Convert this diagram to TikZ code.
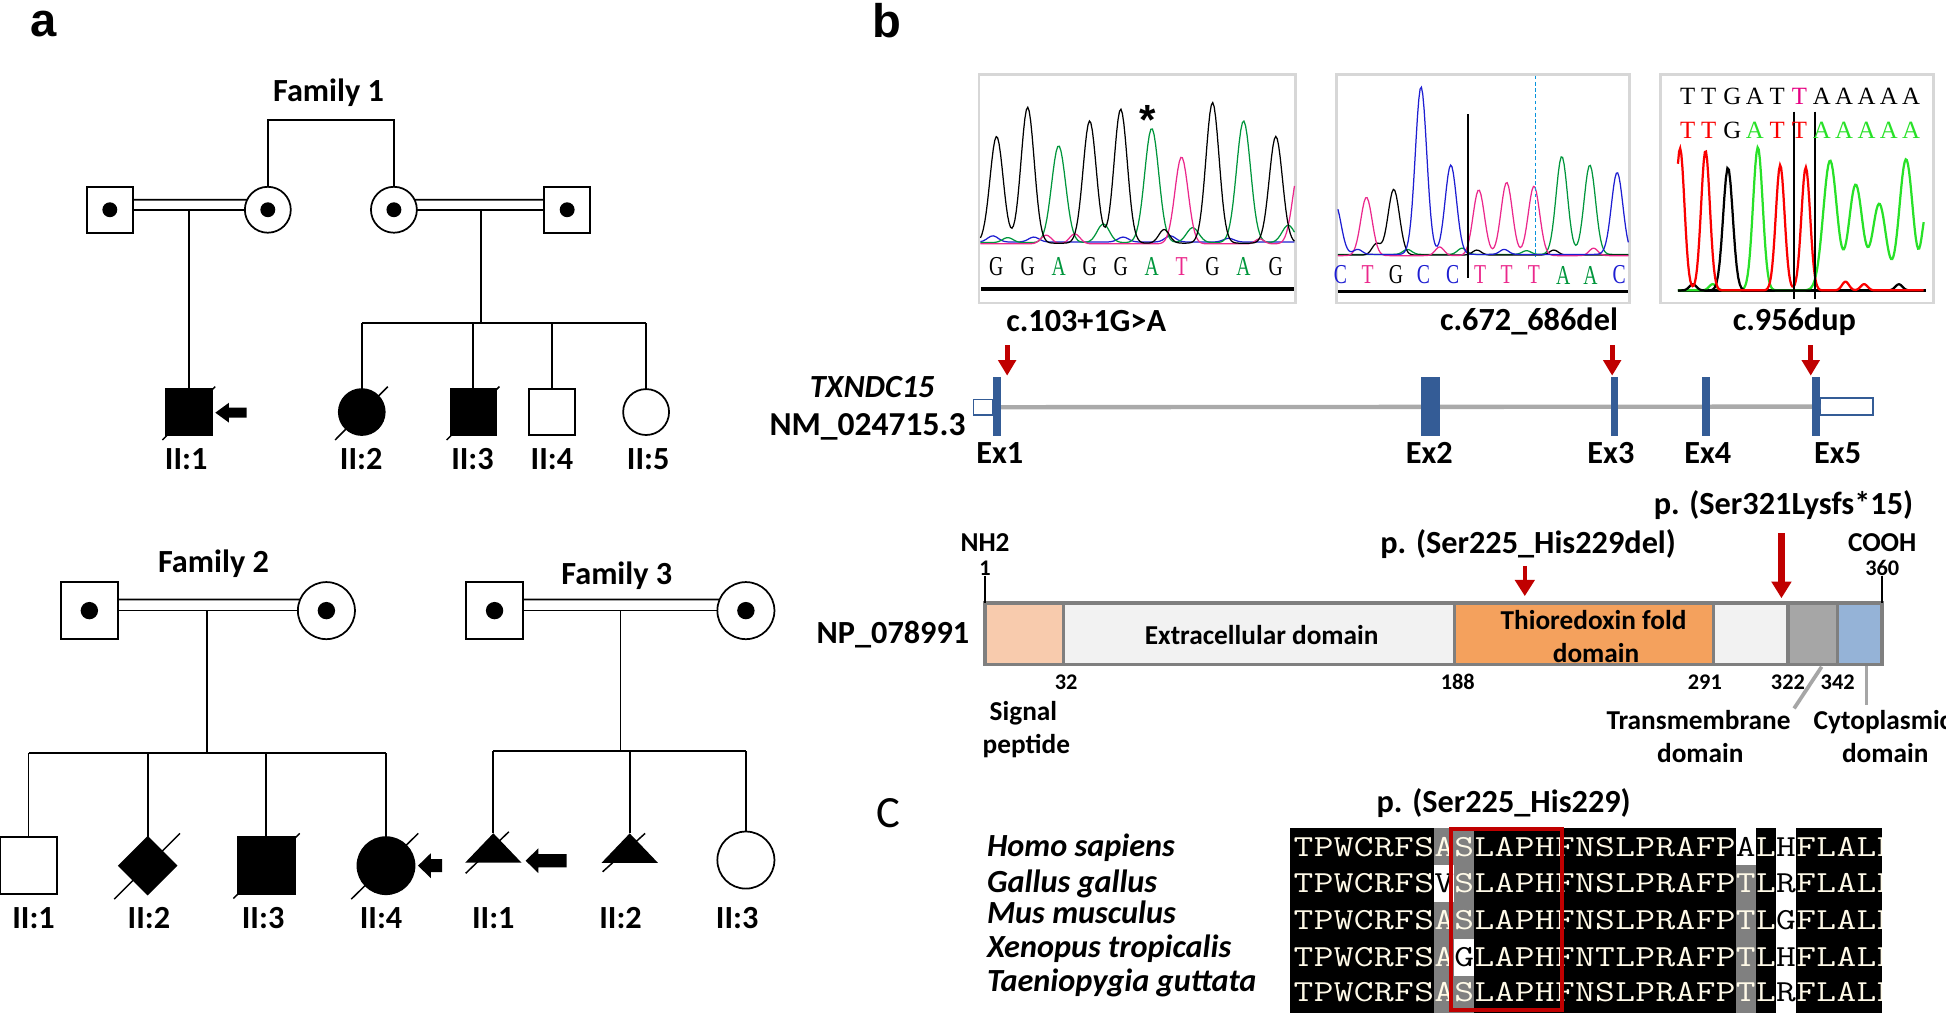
\documentclass[tikz,border=0pt]{standalone}
\usepackage{fontspec}
\setmainfont{Carlito}
\newfontfamily\arialf{Liberation Sans}
\newfontfamily\serf{Liberation Serif}
\usetikzlibrary{shapes.geometric,arrows.meta,calc}
\definecolor{exblue}{RGB}{52,92,150}
\definecolor{genegray}{RGB}{170,170,170}
\definecolor{mutred}{RGB}{192,0,0}
\definecolor{peach}{RGB}{248,203,173}
\definecolor{lgray}{RGB}{242,242,242}
\definecolor{orng}{RGB}{244,161,93}
\definecolor{tmgray}{RGB}{166,166,166}
\definecolor{cytob}{RGB}{149,179,215}
\definecolor{bordgray}{RGB}{127,127,127}
\definecolor{chgreen}{RGB}{0,150,60}
\definecolor{chpink}{RGB}{235,40,140}
\definecolor{chblue}{RGB}{30,30,210}
\definecolor{chred}{RGB}{250,0,0}
\definecolor{chlime}{RGB}{40,225,40}
\definecolor{chmag}{RGB}{230,0,130}
\definecolor{boxgray}{RGB}{215,215,215}
\definecolor{cellgray}{RGB}{128,128,128}
\definecolor{seqwhite}{RGB}{255,250,232}
\newcommand\gpk[3]{#2*exp(-min(((\x-#1)/#3)*((\x-#1)/#3),9))}
\newcommand\sq[1]{\scalebox{1}[0.8]{#1}}
% one alignment row: #1 row id, #2 baseline y, #3 #4 columns on white, #5 letters
\newcommand\seqrow[5]{%
  \foreach \ch [count=\i from 0] in {#5} {%
    \def\tc{seqwhite}%
    \ifnum\i=#3 \def\tc{black}\fi
    \ifnum\i=#4 \def\tc{black}\fi
    \node[seqc, text=\tc] (r#1c\i) at ({1050.3+16.2*\i},#2) {\sq{\ch}};
  }}
\begin{document}
\begin{tikzpicture}[x=0.5pt,y=-0.5pt,
  every node/.style={inner sep=0pt, outer sep=0pt},
  ped/.style={draw=black, line width=0.7pt},
  sqA/.style={ped, rectangle, minimum size=18.5pt},
  ciA/.style={ped, circle, minimum size=18.5pt},
  sqB/.style={ped, rectangle, minimum size=23pt},
  ciB/.style={ped, circle, minimum size=23pt},
  dmB/.style={ped, diamond, aspect=1, minimum size=23pt},
  aff/.style={fill=black},
  tA/.style={font=\fontsize{13}{15}\selectfont\bfseries, text height=8.4pt, text depth=0pt},
  tAi/.style={font=\fontsize{13}{15}\selectfont\bfseries\itshape, text height=8.4pt, text depth=0pt},
  tB/.style={font=\fontsize{11}{13}\selectfont\bfseries, text height=7.1pt, text depth=0pt},
  tC/.style={font=\fontsize{9}{11}\selectfont\bfseries, text height=5.8pt, text depth=0pt},
  panel/.style={font=\arialf\fontsize{19}{21}\selectfont\bfseries},
  cA/.style={font=\serf\fontsize{11}{12}\selectfont},
  cB/.style={font=\serf\fontsize{10}{12}\selectfont},
  exon/.style={fill=exblue, minimum height=23.9pt},
  utr/.style={draw=exblue, line width=0.7pt, fill=white},
  mutarr/.style={mutred, line width=2pt, -{Triangle[width=7pt,length=6.3pt]}},
  seg/.style={draw=bordgray, line width=1.4pt},
  seqc/.style={font=\ttfamily\fontsize{15.43}{16}\selectfont, anchor=base},
  slashline/.style={draw=black, line width=0.6pt}
]
\useasboundingbox (0,0) rectangle (1568,816);
\fill[white] (0,0) rectangle (1568,816);

% ---------------- panel labels
\node[panel] (pa) at (35,19) {a};
\node[panel] (pb) at (715,17) {b};
\node[font=\fontsize{18}{20}\selectfont] (pc) at (715.5,655.4) {C};

% ---------------- Family 1
\node[tA] (f1t) at (264.7,73.5) {Family 1};
\node[sqA] (f1m1) at (88.5,169) {};
\node[ciA] (f1w1) at (215.8,169) {};
\node[ciA] (f1w2) at (317.4,169) {};
\node[sqA] (f1m2) at (457,169) {};
\foreach \n in {f1m1,f1w1,f1w2,f1m2} \fill (\n.center) circle[radius=3pt];
\coordinate (f1top) at (266,96.7);
\draw[ped] (f1w1.north) -- (f1w1.north |- f1top) -- (f1w2.north |- f1top) -- (f1w2.north);
\draw[ped] ([yshift=4pt]f1m1.east) -- (f1w1.154);
\draw[ped] (f1m1.east) -- (f1w1.west);
\draw[ped] (f1w2.26) -- ([yshift=4pt]f1m2.west);
\draw[ped] (f1w2.east) -- (f1m2.west);
\node[sqA,aff] (f1a) at (152.4,332) {};
\node[ciA,aff] (f1b) at (291.5,332) {};
\node[sqA,aff] (f1c) at (381.4,332) {};
\node[sqA] (f1d) at (445,332) {};
\node[ciA] (f1e) at (520.6,332) {};
\draw[ped] (f1a.north) -- (f1a.north |- f1m1.center);
\coordinate (f1s) at (387.5,260);
\draw[ped] (f1s |- f1m2.center) -- (f1s);
\draw[ped] (f1b.north |- f1s) -- (f1e.north |- f1s);
\foreach \n in {f1b,f1c,f1d,f1e} \draw[ped] (\n.north) -- (\n.north |- f1s);
\foreach \n in {f1a,f1b,f1c} \draw[slashline] ($(\n.center)+(-21.5,22.5)$) -- ($(\n.center)+(21,-20.5)$);
\fill (173.5,332.5) -- (184.5,324.5) -- (184.5,328.5) -- (198.8,328.5) -- (198.8,336.5) -- (184.5,336.5) -- (184.5,340.5) -- cycle;
\node[tA] (f1la) at (150,370) {II:1};
\node[tA] (f1lb) at (291,370) {II:2};
\node[tA] (f1lc) at (380.7,370) {II:3};
\node[tA] (f1ld) at (444.7,370) {II:4};
\node[tA] (f1le) at (522.3,370) {II:5};

% ---------------- Family 2
\node[tA] (f2t) at (172,453) {Family 2};
\node[sqB] (f2m) at (72,492) {};
\node[ciB] (f2w) at (263,492) {};
\foreach \n in {f2m,f2w} \fill (\n.center) circle[radius=3.5pt];
\draw[ped] ([yshift=4.5pt]f2m.east) -- (f2w.157);
\draw[ped] (f2m.east) -- (f2w.west);
\coordinate (f2s) at (167,607);
\draw[ped] (f2s |- f2m.center) -- (f2s);
\node[sqB] (f2a) at (23,697.5) {};
\node[dmB,aff] (f2b) at (119,697.5) {};
\node[sqB,aff] (f2c) at (214.5,697.5) {};
\node[ciB,aff] (f2d) at (311,697.5) {};
\draw[ped] (f2a.north |- f2s) -- (f2d.north |- f2s);
\foreach \n in {f2a,f2b,f2c,f2d} \draw[ped] (\n.north) -- (\n.north |- f2s);
\draw[slashline] ($(f2b.center)+(-27,27)$) -- ($(f2b.center)+(26,-26)$);
\draw[slashline] ($(f2c.center)+(-26.5,26.5)$) -- ($(f2c.center)+(27,-26)$);
\draw[slashline] ($(f2d.center)+(-28,27)$) -- ($(f2d.center)+(26,-26)$);
\fill (336.8,697.5) -- (347.1,687.5) -- (347.1,692.2) -- (356.2,692.2) -- (356.2,702.8) -- (347.1,702.8) -- (347.1,707.5) -- cycle;
\node[tA] (f2la) at (27,740) {II:1};
\node[tA] (f2lb) at (120,740) {II:2};
\node[tA] (f2lc) at (212,740) {II:3};
\node[tA] (f2ld) at (307,740) {II:4};

% ---------------- Family 3
\node[tA] (f3t) at (497,462.7) {Family 3};
\node[sqB] (f3m) at (398.5,492) {};
\node[ciB] (f3w) at (601,492) {};
\foreach \n in {f3m,f3w} \fill (\n.center) circle[radius=3.5pt];
\draw[ped] ([yshift=4.5pt]f3m.east) -- (f3w.157);
\draw[ped] (f3m.east) -- (f3w.west);
\coordinate (f3s) at (500,605);
\draw[ped] (f3s |- f3m.center) -- (f3s);
\coordinate (f3a) at (397.5,671.4);
\coordinate (f3b) at (507.4,671.5);
\fill (f3a) -- ++(-22.7,23.7) -- ++(45.4,0) -- cycle;
\fill (f3b) -- ++(-22.7,23.7) -- ++(45.4,0) -- cycle;
\node[ciB] (f3c) at (601,693) {};
\draw[ped] (f3a |- f3s) -- (f3c.north |- f3s);
\draw[ped] (f3a) -- (f3a |- f3s);
\draw[ped] (f3b) -- (f3b |- f3s);
\draw[ped] (f3c.north) -- (f3c.north |- f3s);
\draw[slashline] ($(f3a)+(-22.3,32.3)$) -- ($(f3a)+(12.5,-1.2)$);
\draw[slashline] ($(f3b)+(-21.8,30.9)$) -- ($(f3b)+(12.4,0)$);
\fill (423.5,693.5) -- (433.8,683.5) -- (433.8,688.2) -- (456.6,688.2) -- (456.6,698.8) -- (433.8,698.8) -- (433.8,703.5) -- cycle;
\node[tA] (f3la) at (397.5,740) {II:1};
\node[tA] (f3lb) at (500,740) {II:2};
\node[tA] (f3lc) at (594,740) {II:3};

% ---------------- chromatograms
\node[draw=boxgray, line width=1pt, minimum width=127.5pt, minimum height=92pt, anchor=north west] (chA) at (789,60) {};
\node[draw=boxgray, line width=1pt, minimum width=118pt, minimum height=92pt, anchor=north west] (chB) at (1077,60) {};
\node[draw=boxgray, line width=1pt, minimum width=110pt, minimum height=92pt, anchor=north west] (chC) at (1338,60) {};

\begin{scope}
\clip (chA.south west) rectangle (chA.north east);
\draw[chblue, line width=0.5pt] plot[domain=790:1043, samples=120] (\x,{195-\gpk{800}{5}{6}-\gpk{833}{4}{6}-\gpk{905}{4}{6}-\gpk{943}{5}{6}-\gpk{990}{3}{6}});
\draw[chgreen, line width=0.5pt] plot[domain=790:1043, samples=200] (\x,{195.5-\gpk{853}{78}{8}-\gpk{928}{92}{8}-\gpk{1002}{98}{8}-\gpk{889}{15}{7}-\gpk{961}{12}{7}-\gpk{1038}{14}{7}-\gpk{812}{4}{6}});
\draw[chpink, line width=0.5pt] plot[domain=790:1043, samples=200] (\x,{196.5-\gpk{952}{70}{7.5}-\gpk{1047}{62}{7.5}-\gpk{866}{8}{6}-\gpk{843}{7}{6}-\gpk{1015}{4}{5}});
\draw[black, line width=0.5pt] plot[domain=790:1043, samples=220] (\x,{196-\gpk{803}{86}{7.5}-\gpk{828}{109.5}{7.5}-\gpk{878}{98.5}{7.5}-\gpk{903}{108}{7.5}-\gpk{977}{113.3}{7.5}-\gpk{1028}{86}{7.5}-\gpk{938}{11}{6}});
\end{scope}
\node[font=\arialf\fontsize{17}{17}\selectfont\bfseries, anchor=base] (ast) at (924.5,108) {*};
\foreach \px/\ch/\cl [count=\k] in {802.6/G/black, 828/G/black, 853/A/chgreen, 878/G/black, 903/G/black, 928/A/chgreen, 952/T/chpink, 977/G/black, 1002/A/chgreen, 1028/G/black}
  \node[cA, text=\cl] (qa\k) at (\px,215) {\scalebox{0.72}[1]{\ch}};
\draw[black, line width=1.6pt] (790.5,233) -- (1042.5,233);

\begin{scope}
\clip (chB.south west) rectangle (chB.north east);
\draw[chgreen, line width=0.5pt] plot[domain=1078:1312, samples=200] (\x,{205-\gpk{1258.4}{79}{6.5}-\gpk{1281}{72}{6.5}-\gpk{1134}{4}{5}-\gpk{1178}{5}{5}-\gpk{1230}{3}{5}});
\draw[black, line width=0.5pt] plot[domain=1078:1312, samples=200] (\x,{205.5-\gpk{1123}{53}{6.5}-\gpk{1109}{9}{5}-\gpk{1190}{4}{5}-\gpk{1252}{4}{5}});
\draw[chpink, line width=0.5pt] plot[domain=1078:1312, samples=200] (\x,{206-\gpk{1101}{47}{6.5}-\gpk{1191.5}{53}{6.5}-\gpk{1214}{59}{6.5}-\gpk{1236}{56}{6.5}-\gpk{1160}{7}{5}-\gpk{1284}{6}{5}});
\draw[chblue, line width=0.5pt] plot[domain=1078:1312, samples=220] (\x,{205-\gpk{1076}{40}{6.5}-\gpk{1145}{135}{6.5}-\gpk{1169}{72}{6.5}-\gpk{1303}{66}{6.5}-\gpk{1212}{4}{5}-\gpk{1094}{4}{5}});
\end{scope}
\draw[cyan!80!blue, line width=0.5pt, dash pattern=on 1.5pt off 1pt] (1237,61) -- (1237,207);
\draw[black, line width=1pt] (1183,92) -- (1183,224);
\foreach \px/\ch/\cl [count=\k] in {1080/C/chblue, 1102/T/chpink, 1124.7/G/black, 1147/C/chblue, 1170.5/C/chblue, 1192.6/T/chpink, 1214/T/chpink, 1236/T/chpink, 1259.5/A/chgreen, 1281.6/A/chgreen, 1304.6/C/chblue}
  \node[cA, text=\cl] (qb\k) at (\px,221.6) {\scalebox{0.72}[1]{\ch}};
\draw[black, line width=1.1pt] (1078,235) -- (1312,235);

\begin{scope}
\clip (chC.south west) rectangle (chC.north east);
\draw[black, line width=1pt] (1352,234) -- (1552,234);
\draw[chlime, line width=0.9pt] plot[domain=1352:1550, samples=220] (\x,{234-\gpk{1416.4}{115.3}{5.5}-\gpk{1474.6}{104.5}{7.8}-\gpk{1495.2}{85}{7.8}-\gpk{1514.2}{69.6}{7.8}-\gpk{1535.8}{105.6}{7.8}-\gpk{1552}{60}{5}-\gpk{1380}{5}{4}});
\draw[black, line width=0.9pt] plot[domain=1352:1550, samples=160] (\x,{234-\gpk{1392.3}{99.2}{5.5}-\gpk{1364}{5}{4}-\gpk{1530}{5}{4}});
\draw[chred, line width=0.9pt] plot[domain=1352:1550, samples=220] (\x,{234-\gpk{1353.7}{114.5}{5}-\gpk{1374.2}{112.6}{5}-\gpk{1434.4}{101}{5}-\gpk{1455}{99.2}{5}-\gpk{1487}{7}{4}-\gpk{1502}{5}{4}});
\end{scope}
\draw[black, line width=0.6pt] (1445.6,90) -- (1445.6,241);
\draw[black, line width=0.6pt] (1462.6,90) -- (1462.6,241);
\foreach \px/\ch/\cl [count=\k] in {1359.8/T/black, 1376.8/T/black, 1395.9/G/black, 1413.9/A/black, 1431.9/T/black, 1449.9/T/chmag, 1467.9/A/black, 1485.9/A/black, 1503.9/A/black, 1521.9/A/black, 1539.9/A/black}
  \node[cB, text=\cl] (qc\k) at (\px,77.4) {\ch};
\foreach \px/\ch/\cl [count=\k] in {1359.8/T/chred, 1376.8/T/chred, 1395.9/G/black, 1413.9/A/chlime, 1431.9/T/chred, 1449.9/T/chred, 1467.9/A/chlime, 1485.9/A/chlime, 1503.9/A/chlime, 1521.9/A/chlime, 1539.9/A/chlime}
  \node[cB, text=\cl] (qd\k) at (\px,105.3) {\ch};

\node[tA] (mu1) at (875.2,258.5) {c.103+1G>A};
\node[tA] (mu2) at (1232,258) {c.672\_686del};
\node[tA] (mu3) at (1445.8,257.5) {c.956dup};

% ---------------- gene structure
\node[tAi] (gname) at (702.7,311.5) {TXNDC15};
\node[tA, font=\fontsize{13.5}{15}\selectfont\bfseries] (gacc) at (699,342.5) {NM\_024715.3};
\node[utr, minimum width=8pt, minimum height=6.3pt] (utrL) at (792.4,328.1) {};
\node[utr, minimum width=21.2pt, minimum height=6.85pt] (utrR) at (1487.8,327.6) {};
\draw[genegray, line width=1.75pt] (utrL.east) -- (utrR.west);
\node[exon, minimum width=3pt] (ex1) at (803.4,327.4) {};
\node[exon, minimum width=7.7pt] (ex2) at (1152.7,327.4) {};
\node[exon, minimum width=3pt] (ex3) at (1301,327.4) {};
\node[exon, minimum width=3.5pt] (ex4) at (1374.5,327.4) {};
\node[exon, minimum width=3.3pt] (ex5) at (1463.3,327.4) {};
\node[tA] (lx1) at (805.6,365) {Ex1};
\node[tA] (lx2) at (1151.6,365) {Ex2};
\node[tA] (lx3) at (1298,365) {Ex3};
\node[tA] (lx4) at (1376,365) {Ex4};
\node[tA] (lx5) at (1480.7,365) {Ex5};
\coordinate (m1s) at (811.5,278); \coordinate (m1e) at (811.5,302.7);
\coordinate (m2s) at (1299,278); \coordinate (m2e) at (1299,302.7);
\coordinate (m3s) at (1459,278); \coordinate (m3e) at (1459,302.7);
\draw[mutarr] (m1s) -- (m1e);
\draw[mutarr] (m2s) -- (m2e);
\draw[mutarr] (m3s) -- (m3e);

% ---------------- protein
\node[tA, anchor=east] (np) at (781,510.4) {NP\_078991};
\draw[seg, fill=peach] (793.7,486) rectangle (857,535.5);
\draw[seg, fill=lgray] (857,486) rectangle (1172,535.5);
\draw[seg, fill=orng] (1172,486) rectangle (1380.5,535.5);
\draw[seg, fill=lgray] (1380.5,486) rectangle (1440.6,535.5);
\draw[seg, fill=tmgray] (1440.6,486) rectangle (1480.7,535.5);
\draw[seg, fill=cytob] (1480.7,486) rectangle (1516.6,535.5);
\draw[black, line width=0.6pt] (793.7,464) -- (793.7,486);
\draw[black, line width=0.6pt] (1516.6,464) -- (1516.6,486);
\node[tB] (nh2) at (793.7,437.3) {NH2};
\node[tC] (n1) at (793.7,457.6) {1};
\node[tB] (cooh) at (1516.6,437.3) {COOH};
\node[tC] (n360) at (1516.6,457.6) {360};
\node[tB] (dex) at (1016.6,512.2) {Extracellular domain};
\node[tB] (dtr1) at (1284,500) {Thioredoxin fold};
\node[tB] (dtr2) at (1286,527) {domain};
\node[tC] (n32) at (859,550) {32};
\node[tC] (n188) at (1174.6,550) {188};
\node[tC] (n291) at (1373.7,550) {291};
\node[tC] (n322) at (1440.6,550) {322};
\node[tC] (n342) at (1480.7,550) {342};
\node[tB] (sig1) at (824.6,573.5) {Signal};
\node[tB] (sig2) at (827,600.3) {peptide};
\node[tB] (tm1) at (1368.6,580.7) {Transmembrane};
\node[tB] (tm2) at (1370,607) {domain};
\node[tB] (cy1) at (1516.7,580.7) {Cytoplasmic};
\node[tB] (cy2) at (1519,607) {domain};
\coordinate (tmA) at (1467.8,537.2); \coordinate (tmB) at (1445.6,570.8);
\coordinate (cyA) at (1504,537); \coordinate (cyB) at (1504,568);
\draw[tmgray, line width=1.5pt] (tmA) -- (tmB);
\draw[tmgray, line width=1.5pt] (cyA) -- (cyB);
\node[tA] (pdel) at (1231.3,437.8) {p. (Ser225\_His229del)};
\node[tA] (pfs) at (1437,406) {p. (Ser321Lysfs*15)};
\coordinate (pa1) at (1228.6,456); \coordinate (pa2) at (1228.6,480.3);
\coordinate (pb1) at (1435.4,429.8); \coordinate (pb2) at (1435.4,482);
\draw[mutred, line width=1.5pt, -{Triangle[width=7.75pt,length=6.5pt]}] (pa1) -- (pa2);
\draw[mutred, line width=2.8pt, -{Triangle[width=7.75pt,length=6.7pt]}] (pb1) -- (pb2);

% ---------------- panel c
\node[tA] (ctitle) at (1211.6,646) {p. (Ser225\_His229)};
\node[tAi, anchor=west] (sp1) at (795.3,681.7) {Homo sapiens};
\node[tAi, anchor=west] (sp2) at (795.3,710.5) {Gallus gallus};
\node[tAi, anchor=west] (sp3) at (795.3,736) {Mus musculus};
\node[tAi, anchor=west] (sp4) at (795.3,762.8) {Xenopus tropicalis};
\node[tAi, anchor=west] (sp5) at (795.3,790.2) {Taeniopygia guttata};

\fill[black] (1039.5,667.5) rectangle (1516.3,816);
\fill[cellgray] (1155.6,667.5) rectangle (1171.8,697.2);
\fill[white] (1155.6,697.2) rectangle (1171.8,726.9);
\fill[cellgray] (1155.6,726.9) rectangle (1171.8,816);
\fill[cellgray] (1171.8,667.5) rectangle (1188,756.6);
\fill[white] (1171.8,756.6) rectangle (1188,786.3);
\fill[cellgray] (1171.8,786.3) rectangle (1188,816);
\fill[white] (1398.6,667.5) rectangle (1414.8,697.2);
\fill[cellgray] (1398.6,697.2) rectangle (1414.8,816);
\fill[white] (1431,667.5) rectangle (1447.2,816);
\begin{scope}
\clip (1039.5,667.5) rectangle (1516.3,816);
\seqrow{1}{689.8}{22}{24}{T,P,W,C,R,F,S,A,S,L,A,P,H,F,N,S,L,P,R,A,F,P,A,L,H,F,L,A,L,L}
\seqrow{2}{719.3}{7}{24}{T,P,W,C,R,F,S,V,S,L,A,P,H,F,N,S,L,P,R,A,F,P,T,L,R,F,L,A,L,L}
\seqrow{3}{748.8}{24}{24}{T,P,W,C,R,F,S,A,S,L,A,P,H,F,N,S,L,P,R,A,F,P,T,L,G,F,L,A,L,L}
\seqrow{4}{778.4}{8}{24}{T,P,W,C,R,F,S,A,G,L,A,P,H,F,N,T,L,P,R,A,F,P,T,L,H,F,L,A,L,L}
\seqrow{5}{806.6}{24}{24}{T,P,W,C,R,F,S,A,S,L,A,P,H,F,N,S,L,P,R,A,F,P,T,L,R,F,L,A,L,L}
\end{scope}
\draw[mutred, line width=1.6pt] (1169,667.7) rectangle (1258.9,814.1);
\end{tikzpicture}
\end{document}
